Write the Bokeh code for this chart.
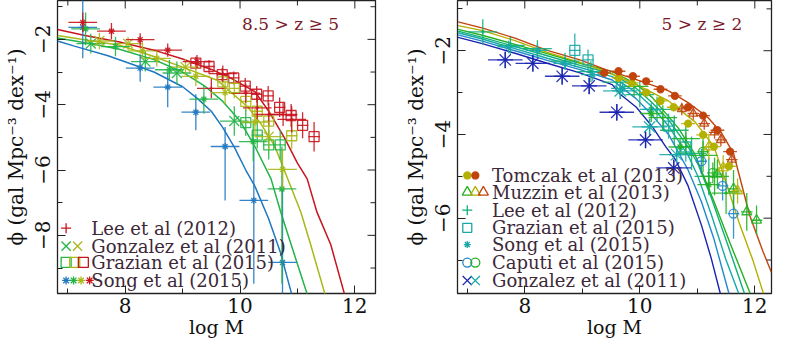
import numpy as np
from bokeh.plotting import figure
from bokeh.layouts import row
from bokeh.models import FixedTicker, Range1d
from bokeh.core.properties import value
from bokeh.embed import file_html
from bokeh.resources import INLINE

FONT = "DejaVu Serif"
TXT = "#3c2838"
TITLE_C = "#7a1a2a"
AXC = "#222222"

# ---------------- LEFT PANEL DATA (8.5 > z >= 5) ----------------
C_Z8, C_Z7, C_Z6, C_Z5 = "#1f78c0", "#22b446", "#a8b818", "#c8141e"

model_z8_x = [6.82, 7.1, 7.7, 8.5, 9.0, 9.25, 9.5, 9.7, 9.9, 10.1, 10.26, 10.5, 10.7, 10.9]
model_z8_y = [-2.05, -2.2, -2.5, -3.0, -3.45, -3.8, -4.2, -4.7, -5.3, -6.0, -6.5, -7.5, -8.5, -9.8]
model_z7_x = [6.82, 7.3, 7.9, 8.5, 9.0, 9.4, 9.7, 10.0, 10.26, 10.54, 10.71, 10.89, 11.17]
model_z7_y = [-1.96, -2.1, -2.3, -2.62, -3.0, -3.45, -3.9, -4.5, -5.28, -6.27, -7.29, -8.28, -9.8]
model_z6_x = [6.82, 7.9, 8.46, 9.0, 9.6, 9.8, 10.14, 10.37, 10.6, 10.83, 11.06, 11.23, 11.48]
model_z6_y = [-1.88, -2.18, -2.5, -2.85, -3.25, -3.55, -4.08, -4.6, -5.25, -6.27, -7.29, -8.28, -9.8]
model_z5_x = [6.82, 7.3, 7.9, 8.5, 9.0, 9.5, 9.8, 10.26, 10.5, 10.77, 11.0, 11.17, 11.34, 11.58, 11.82]
model_z5_y = [-1.70, -1.88, -2.08, -2.33, -2.6, -2.92, -3.15, -3.6, -4.2, -5.0, -5.79, -6.27, -7.29, -8.28, -9.8]

lee12_x = [9.5, 9.7, 10.1, 10.3, 10.5, 10.75, 10.9]
lee12_y = [-3.5, -3.05, -3.65, -4.1, -4.3, -4.3, -4.45]
lee12_ye = [0.3, 0.25, 0.3, 0.35, 0.35, 0.35, 0.4]

gon_z7_x = [7.4, 8.35, 8.9, 9.9]
gon_z7_y = [-2.13, -2.68, -3.03, -4.5]
gon_z7_ye = [0.3, 0.3, 0.35, 0.45]
gon_z6_x = [7.55, 8.05, 9.05, 10.5]
gon_z6_y = [-2.05, -2.13, -2.85, -4.98]
gon_z6_ye = [0.25, 0.2, 0.25, 0.4]

gra_z5_x = [9.23, 9.46, 9.69, 9.89, 10.09, 10.29, 10.49, 10.69, 10.89, 11.09, 11.29]
gra_z5_y = [-2.73, -2.83, -3.08, -3.18, -3.43, -3.68, -3.73, -4.08, -4.33, -4.63, -4.98]
gra_z5_ye = [0.2, 0.2, 0.2, 0.2, 0.25, 0.25, 0.3, 0.3, 0.35, 0.4, 0.45]
gra_z6_x = [9.7, 9.9, 10.1, 10.3, 10.5, 10.9]
gra_z6_y = [-3.3, -3.5, -3.9, -4.2, -4.5, -4.95]
gra_z6_ye = [0.25, 0.3, 0.3, 0.35, 0.35, 0.4]
gra_z7_x = [10.1, 10.3, 10.5, 10.7]
gra_z7_y = [-4.55, -4.93, -5.23, -5.23]
gra_z7_ye = [0.4, 0.4, 0.45, 0.45]

song_z8_x = [7.26, 8.26, 8.74, 9.23, 9.74, 10.24, 10.74]
song_z8_y = [-1.63, -2.88, -3.46, -4.23, -5.28, -6.93, -8.83]
song_z8_hi = [0.85, 0.42, 0.43, 0.55, 0.6, 1.65, 2.95]
song_z8_lo = [0.95, 0.42, 0.62, 0.55, 1.65, 2.55, 1.5]
song_z7_x = [7.31, 7.83, 8.77, 9.37, 10.23, 10.73]
song_z7_y = [-1.68, -2.22, -2.93, -3.83, -5.13, -6.58]
song_z7_hi = [0.5, 0.3, 0.3, 0.4, 0.55, 1.3]
song_z7_lo = [0.5, 0.3, 0.3, 0.45, 0.6, 2.9]
song_z6_x = [8.3, 8.55, 9.23, 9.74, 10.26, 10.74]
song_z6_y = [-2.35, -2.58, -3.13, -3.63, -4.53, -5.98]
song_z6_e = [0.25, 0.25, 0.3, 0.35, 0.4, 0.6]
song_z5_x = [7.26, 7.76, 8.26, 8.74, 9.25]
song_z5_y = [-1.48, -1.75, -2.01, -2.33, -2.68]
song_z5_e = [0.3, 0.25, 0.2, 0.2, 0.2]

# ---------------- RIGHT PANEL DATA (5 > z >= 2) ----------------
R_DB, R_BL, R_TE, R_TG, R_GR, R_OL, R_BR = "#1a22b0", "#2288cc", "#18a8a8", "#10b078", "#22b022", "#b4b000", "#c0440c"

m_db_x = [6.84, 7.26, 7.83, 8.39, 8.96, 9.52, 9.66, 9.94, 10.22, 10.45, 10.62, 10.84, 11.07, 11.24, 11.4]
m_db_y = [-1.68, -1.83, -2.06, -2.3, -2.53, -2.81, -3.04, -3.35, -3.82, -4.29, -4.6, -5.23, -6.16, -6.95, -7.8]
m_bl_x = [6.84, 7.26, 7.83, 8.39, 8.96, 9.52, 9.94, 10.22, 10.5, 10.84, 11.07, 11.29, 11.55]
m_bl_y = [-1.62, -1.77, -2.0, -2.23, -2.45, -2.7, -3.15, -3.55, -4.0, -4.85, -5.6, -6.5, -7.8]
m_te_x = [6.84, 7.26, 7.83, 8.39, 8.96, 9.52, 9.94, 10.22, 10.5, 10.84, 11.01, 11.24, 11.5, 11.72]
m_te_y = [-1.57, -1.72, -1.95, -2.18, -2.4, -2.62, -3.0, -3.35, -3.8, -4.5, -5.0, -5.9, -7.0, -7.8]
m_tg_x = [6.84, 7.26, 7.83, 8.39, 8.96, 9.52, 9.94, 10.22, 10.5, 10.84, 11.01, 11.24, 11.52, 11.82]
m_tg_y = [-1.53, -1.68, -1.9, -2.12, -2.35, -2.55, -2.9, -3.25, -3.65, -4.3, -4.7, -5.5, -6.6, -7.8]
m_gr_x = [6.84, 7.26, 7.83, 8.39, 8.96, 9.52, 9.94, 10.22, 10.67, 10.95, 11.29, 11.57, 11.92]
m_gr_y = [-1.49, -1.63, -1.85, -2.07, -2.3, -2.5, -2.8, -3.12, -3.85, -4.45, -5.6, -6.6, -7.8]
m_ol_x = [6.84, 7.27, 7.83, 8.39, 8.96, 9.41, 9.94, 10.5, 10.96, 11.29, 11.52, 11.74, 11.97, 12.15]
m_ol_y = [-1.40, -1.52, -1.76, -2.04, -2.28, -2.5, -2.81, -3.2, -3.7, -4.29, -5.23, -6.16, -7.02, -7.8]
m_br_x = [6.84, 7.27, 7.83, 8.39, 8.96, 9.41, 9.94, 10.5, 10.84, 11.18, 11.41, 11.63, 11.91, 12.14, 12.29]
m_br_y = [-1.31, -1.46, -1.70, -1.99, -2.22, -2.45, -2.69, -2.96, -3.24, -3.59, -3.94, -4.45, -5.93, -6.79, -7.3]

tom_br_x = [9.38, 9.63, 9.88, 10.11, 10.36, 10.61, 10.84, 11.1, 11.35, 11.57]
tom_br_y = [-2.53, -2.49, -2.61, -2.73, -2.92, -3.08, -3.35, -3.55, -3.9, -4.41]
tom_ol_x = [9.63, 9.86, 10.11, 10.36, 10.59, 10.84, 11.1, 11.29, 11.55]
tom_ol_y = [-2.65, -2.77, -3.0, -3.2, -3.35, -3.74, -4.01, -4.29, -4.76]

muz_br_x = [10.73, 10.93, 11.12, 11.3, 11.41, 11.6]
muz_br_y = [-3.39, -3.5, -3.74, -3.95, -4.13, -4.6]
muz_ol_x = [11.2, 11.45, 11.7]
muz_ol_y = [-4.3, -4.8, -5.35]
muz_gr_x = [11.35, 11.63, 11.86, 12.03]
muz_gr_y = [-4.95, -5.3, -5.85, -6.05]
muz_gr_ye = [0.35, 0.45, 0.45, 0.35]

lee_tg_x = [7.27, 7.75, 8.22, 8.7, 9.15, 9.6, 10.0, 10.3, 10.6, 10.9, 11.2]
lee_tg_y = [-1.55, -1.87, -1.95, -2.25, -2.5, -2.75, -3.05, -3.4, -3.9, -4.45, -5.0]
lee_tg_ye = [0.3, 0.2, 0.2, 0.2, 0.25, 0.25, 0.3, 0.3, 0.35, 0.4, 0.45]
lee_gr_x = [9.9, 10.4, 10.8, 11.1, 11.3, 11.5]
lee_gr_y = [-2.85, -3.6, -4.1, -4.5, -5.0, -5.4]
lee_gr_ye = [0.25, 0.3, 0.35, 0.4, 0.45, 0.5]

gra_te_x = [8.87, 9.1, 10.5, 10.8]
gra_te_y = [-1.99, -2.22, -3.8, -4.3]
gra_te_ye = [0.4, 0.25, 0.3, 0.35]

song_te_x = [7.72, 8.22, 8.7, 9.18, 9.7, 10.2]
song_te_y = [-1.91, -1.99, -2.3, -2.57, -2.9, -3.4]
song_gr_x = [10.2, 10.7, 11.2]
song_gr_y = [-3.5, -4.3, -5.2]

cap_bl_x = [11.07, 11.44, 11.63]
cap_bl_y = [-4.64, -5.23, -5.89]
cap_bl_ye = [0.3, 0.35, 0.6]
cap_gr_x = [11.1, 11.27]
cap_gr_y = [-4.41, -4.92]

gon_db_x = [7.66, 8.14, 8.65, 9.12, 9.6, 10.1, 10.59]
gon_db_y = [-2.22, -2.30, -2.61, -2.84, -3.47, -4.13, -4.8]
gon_te_x = [9.66, 10.17, 10.64]
gon_te_y = [-2.96, -3.82, -4.48]


def errpts(p, x, y, xe, ylo, yhi, color, marker, size, fill=False, lw=1.3, alpha=0.9):
    x = np.asarray(x, float)
    y = np.asarray(y, float)
    xe = np.broadcast_to(np.asarray(xe, float), x.shape)
    ylo = np.broadcast_to(np.asarray(ylo, float), x.shape)
    yhi = np.broadcast_to(np.asarray(yhi, float), x.shape)
    p.segment(x - xe, y, x + xe, y, line_color=color, line_width=lw, line_alpha=alpha)
    p.segment(x, y - ylo, x, y + yhi, line_color=color, line_width=lw, line_alpha=alpha)
    p.scatter(x, y, marker=marker, size=size, line_color=color, line_width=lw,
              fill_color=color if fill else None, line_alpha=alpha)


def frame(p, xt, xm, yt, ym, ylabels):
    p.outline_line_color = AXC
    p.outline_line_width = 1.3
    p.grid.visible = False
    p.background_fill_color = "white"
    p.border_fill_color = "white"
    ax = p.xaxis[0]
    ay = p.yaxis[0]
    ax.ticker = FixedTicker(ticks=xt, minor_ticks=xm)
    ay.ticker = FixedTicker(ticks=yt, minor_ticks=ym)
    ay.major_label_overrides = ylabels
    for a in (ax, ay):
        a.axis_line_color = None
        a.major_tick_in = 8
        a.major_tick_out = 0
        a.minor_tick_in = 5
        a.minor_tick_out = 0
        a.major_tick_line_color = AXC
        a.minor_tick_line_color = AXC
        a.major_label_text_font = FONT
        a.major_label_text_font_size = "20px"
        a.major_label_text_color = "#111111"
        a.axis_label_text_font = FONT
        a.axis_label_text_font_style = "normal"
        a.axis_label_text_font_size = "19px"
        a.axis_label_text_color = "#111111"
    ax.major_label_standoff = 4
    ax.axis_label_standoff = 0
    ax.axis_label = "log M"
    ay.major_label_orientation = "vertical"
    ay.major_label_standoff = 7
    ay.axis_label_standoff = 5
    ay.axis_label = "ϕ (gal Mpc⁻³ dex⁻¹)"
    ay.axis_label_text_font_size = "20px"
    # inward ticks on the top and right edges of the frame
    xr, yr = p.x_range, p.y_range
    for vals, ln in ((xt, 8), (xm, 5)):
        p.ray(x=vals, y=[yr.end] * len(vals), length=ln, length_units="screen",
              angle=-np.pi / 2, line_color=AXC, line_width=1)
    for vals, ln in ((yt, 8), (ym, 5)):
        p.ray(x=[xr.end] * len(vals), y=vals, length=ln, length_units="screen",
              angle=np.pi, line_color=AXC, line_width=1)


def legend_entry(p, xs, y, colors, marker, size, label, tx, fill=False):
    p.scatter(xs, [y] * len(xs), marker=marker, size=size, line_color=colors,
              fill_color=colors if fill else None, line_width=1.3)
    p.text([tx], [y], text=[label], text_font=value(FONT), text_font_size="18px",
           text_color=TXT, text_baseline="middle", text_align="left")


# ---------------- LEFT FIGURE ----------------
pl = figure(width=400, height=340, output_backend="svg", toolbar_location=None,
            x_range=Range1d(6.82, 12.36), y_range=Range1d(-9.78, -0.81),
            min_border_left=54, min_border_right=25, min_border_top=0, min_border_bottom=4)
frame(pl, [8, 10, 12], [7, 9, 11], [-2, -4, -6, -8], [-1, -3, -5, -7, -9],
      {-2: "−2", -4: "−4", -6: "−6", -8: "−8"})

pl.line(model_z8_x, model_z8_y, line_color=C_Z8, line_width=1.5)
pl.line(model_z7_x, model_z7_y, line_color=C_Z7, line_width=1.5)
pl.line(model_z6_x, model_z6_y, line_color=C_Z6, line_width=1.5)
pl.line(model_z5_x, model_z5_y, line_color=C_Z5, line_width=1.5)

errpts(pl, gra_z5_x, gra_z5_y, 0.1, gra_z5_ye, gra_z5_ye, C_Z5, "square", 10)
errpts(pl, gra_z6_x, gra_z6_y, 0.1, gra_z6_ye, gra_z6_ye, C_Z6, "square", 10)
errpts(pl, gra_z7_x, gra_z7_y, 0.1, gra_z7_ye, gra_z7_ye, C_Z7, "square", 10)
errpts(pl, lee12_x, lee12_y, 0.25, lee12_ye, lee12_ye, C_Z5, "cross", 4)
errpts(pl, gon_z7_x, gon_z7_y, 0.25, gon_z7_ye, gon_z7_ye, C_Z7, "x", 14)
errpts(pl, gon_z6_x, gon_z6_y, 0.25, gon_z6_ye, gon_z6_ye, C_Z6, "x", 14)
errpts(pl, song_z8_x, song_z8_y, 0.25, song_z8_lo, song_z8_hi, C_Z8, "asterisk", 7)
errpts(pl, song_z7_x, song_z7_y, 0.25, song_z7_lo, song_z7_hi, C_Z7, "asterisk", 7)
errpts(pl, song_z6_x, song_z6_y, 0.25, song_z6_e, song_z6_e, C_Z6, "asterisk", 7)
errpts(pl, song_z5_x, song_z5_y, 0.25, song_z5_e, song_z5_e, C_Z5, "asterisk", 7)

LX = 7.41
legend_entry(pl, [6.97], -7.78, [C_Z5], "cross", 10, "Lee et al (2012)", LX)
legend_entry(pl, [6.97, 7.17], -8.33, [C_Z7, C_Z6], "x", 13, "Gonzalez et al (2011)", LX)
legend_entry(pl, [6.97, 7.12, 7.27], -8.83, [C_Z7, C_Z6, C_Z5], "square", 10, "Grazian et al (2015)", LX)
legend_entry(pl, [6.97, 7.1, 7.23, 7.38], -9.38, [C_Z8, C_Z7, C_Z6, C_Z5], "asterisk", 8, "Song et al (2015)", LX)
pl.text([10.88], [-1.53], text=["8.5 > z ≥ 5"], text_font=value(FONT), text_font_size="17px",
        text_color=TITLE_C, text_align="center", text_baseline="middle")

# ---------------- RIGHT FIGURE ----------------
pr = figure(width=373, height=340, output_backend="svg", toolbar_location=None,
            x_range=Range1d(6.83, 12.29), y_range=Range1d(-7.8, -0.8),
            min_border_left=54, min_border_right=2, min_border_top=0, min_border_bottom=4)
frame(pr, [8, 10, 12], [7, 9, 11], [-2, -4, -6], [-1, -3, -5, -7],
      {-2: "−2", -4: "−4", -6: "−6"})

for mx, my, c in ((m_db_x, m_db_y, R_DB), (m_bl_x, m_bl_y, R_BL), (m_te_x, m_te_y, R_TE),
                  (m_tg_x, m_tg_y, R_TG), (m_gr_x, m_gr_y, R_GR), (m_ol_x, m_ol_y, R_OL),
                  (m_br_x, m_br_y, R_BR)):
    pr.line(mx, my, line_color=c, line_width=1.4)

errpts(pr, gra_te_x, gra_te_y, 0.1, gra_te_ye, gra_te_ye, R_TE, "square", 10)
errpts(pr, lee_tg_x, lee_tg_y, 0.25, lee_tg_ye, lee_tg_ye, R_TG, "cross", 4)
errpts(pr, lee_gr_x, lee_gr_y, 0.25, lee_gr_ye, lee_gr_ye, R_GR, "cross", 4)
errpts(pr, song_te_x, song_te_y, 0.2, 0.15, 0.15, R_TE, "asterisk", 7)
errpts(pr, song_gr_x, song_gr_y, 0.2, 0.2, 0.2, R_GR, "asterisk", 7)
errpts(pr, cap_bl_x, cap_bl_y, 0.1, cap_bl_ye, cap_bl_ye, R_BL, "circle", 9)
errpts(pr, cap_gr_x, cap_gr_y, 0.1, 0.25, 0.25, R_GR, "circle", 9)
errpts(pr, muz_gr_x, muz_gr_y, 0.1, muz_gr_ye, muz_gr_ye, R_GR, "triangle", 10)
errpts(pr, muz_ol_x, muz_ol_y, 0.1, 0.3, 0.3, R_OL, "triangle", 10)
errpts(pr, muz_br_x, muz_br_y, 0.1, 0.15, 0.15, R_BR, "triangle", 9)
errpts(pr, tom_ol_x, tom_ol_y, 0.12, 0.08, 0.08, R_OL, "circle", 7, fill=True)
errpts(pr, tom_br_x, tom_br_y, 0.12, 0.08, 0.08, R_BR, "circle", 7, fill=True)
errpts(pr, gon_te_x, gon_te_y, 0.3, 0.2, 0.2, R_TE, "asterisk", 16)
errpts(pr, gon_db_x, gon_db_y, 0.3, 0.2, 0.2, R_DB, "asterisk", 16)

RX = 7.43
legend_entry(pr, [7.0, 7.14], -4.98, [R_OL, R_BR], "circle", 7, "Tomczak et al (2013)", RX, fill=True)
legend_entry(pr, [7.0, 7.14, 7.28], -5.38, [R_GR, R_OL, R_BR], "triangle", 10, "Muzzin et al (2013)", RX)
legend_entry(pr, [7.0], -5.81, [R_TG], "cross", 10, "Lee et al (2012)", RX)
legend_entry(pr, [7.0], -6.23, [R_TE], "square", 9, "Grazian et al (2015)", RX)
legend_entry(pr, [7.0], -6.63, [R_TE], "asterisk", 7, "Song et al (2015)", RX)
legend_entry(pr, [7.0, 7.14], -7.06, [R_BL, R_GR], "circle", 9, "Caputi et al (2015)", RX)
legend_entry(pr, [7.0, 7.14], -7.49, [R_DB, R_TE], "x", 13, "Gonzalez et al (2011)", RX)
pr.text([11.08], [-1.36], text=["5 > z ≥ 2"], text_font=value(FONT), text_font_size="17px",
        text_color=TITLE_C, text_align="center", text_baseline="middle")

layout = row(pl, pr)
open("out.html", "w").write(file_html(layout, INLINE))
